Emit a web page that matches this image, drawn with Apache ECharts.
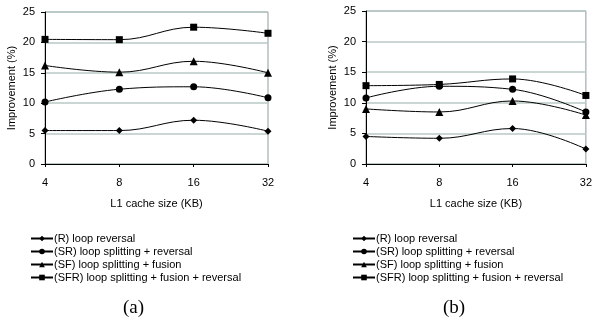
<!DOCTYPE html>
<html>
<head>
<meta charset="utf-8">
<script src="https://cdn.jsdelivr.net/npm/echarts@6/dist/echarts.min.js"></script>
<style>
html,body{margin:0;padding:0;background:#fff;}
#chart{width:595px;height:323px;}
</style>
</head>
<body>
<div id="chart"></div>
<script>
const categories = ['4', '8', '16', '32'];
const seriesNames = ['(R) loop reversal', '(SR) loop splitting + reversal', '(SF) loop splitting + fusion', '(SFR) loop splitting + fusion + reversal'];
const symbols = ['diamond', 'circle', 'triangle', 'rect'];
// Chart (a)
const aR = [5.5, 5.5, 7.2, 5.4];
const aSR = [10.2, 12.3, 12.7, 10.9];
const aSF = [16.2, 15.1, 16.9, 15.0];
const aSFR = [20.5, 20.45, 22.5, 21.5];
// Chart (b)
const bR = [4.5, 4.2, 5.8, 2.45];
const bSR = [10.8, 12.7, 12.2, 8.5];
const bSF = [9.0, 8.5, 10.3, 8.0];
const bSFR = [12.8, 13.0, 13.9, 11.2];
const captions = ['(a)', '(b)'];

const font = 'Liberation Sans, Arial, sans-serif';
const chart = echarts.init(document.getElementById('chart'));

function xAx(gi) {
  return {
    type: 'category', gridIndex: gi, data: categories, boundaryGap: false,
    name: 'L1 cache size (KB)', nameLocation: 'middle', nameGap: 34,
    nameTextStyle: {fontFamily: font, fontSize: 11, color: '#000'},
    axisLine: {lineStyle: {color: '#000', width: 1}},
    axisTick: {show: true, length: 3, alignWithLabel: true, lineStyle: {color: '#000'}},
    axisLabel: {fontFamily: font, fontSize: 11, color: '#000', margin: 13},
    splitLine: {show: false}
  };
}
function yAx(gi) {
  return {
    type: 'value', gridIndex: gi, min: 0, max: 25, interval: 5,
    name: 'Improvement (%)', nameLocation: 'middle', nameGap: 28, nameRotate: 90,
    nameTextStyle: {fontFamily: font, fontSize: 11, color: '#000'},
    axisLine: {show: true, lineStyle: {color: '#000', width: 1}},
    axisTick: {show: true, length: 4, lineStyle: {color: '#000'}},
    axisLabel: {fontFamily: font, fontSize: 11, color: '#000', margin: 10},
    splitLine: {show: true, lineStyle: {color: '#b9c9c4', width: 1.5}}
  };
}
function mk(name, data, sym, gi) {
  return {
    name: name, type: 'line', xAxisIndex: gi, yAxisIndex: gi, data: data,
    symbol: sym, symbolSize: sym === 'triangle' ? 8 : 7,
    smooth: 0.4,
    lineStyle: {color: '#000', width: 1},
    itemStyle: {color: '#000'},
    emphasis: {disabled: true}
  };
}
const aData = [aR, aSR, aSF, aSFR];
const bData = [bR, bSR, bSF, bSFR];
const series = [];
aData.forEach((d, i) => series.push(mk(seriesNames[i], d, symbols[i], 0)));
bData.forEach((d, i) => series.push(mk(seriesNames[i], d, symbols[i], 1)));

function legend(left) {
  return {
    orient: 'vertical', left: left, top: 233, itemWidth: 22, itemHeight: 7, itemGap: 2,
    textStyle: {fontFamily: font, fontSize: 11, color: '#000', padding: [0, 0, 0, -4]},
    data: seriesNames, selectedMode: false, padding: 0
  };
}

chart.setOption({
  animation: false,
  backgroundColor: '#fff',
  grid: [
    {left: 45, right: 327, top: 12, bottom: 159, show: true, borderColor: '#8c9c9c', borderWidth: 1},
    {left: 366, right: 5, top: 11, bottom: 159, show: true, borderColor: '#8c9c9c', borderWidth: 1}
  ],
  xAxis: [xAx(0), xAx(1)],
  yAxis: [yAx(0), yAx(1)],
  legend: [legend(30), legend(352)],
  series: series,
  graphic: [
    {type: 'text', left: 123, top: 299, style: {text: captions[0], font: '19px "Liberation Serif", "Times New Roman", serif', fill: '#000'}},
    {type: 'text', left: 443, top: 299, style: {text: captions[1], font: '19px "Liberation Serif", "Times New Roman", serif', fill: '#000'}}
  ]
});
</script>
</body>
</html>
